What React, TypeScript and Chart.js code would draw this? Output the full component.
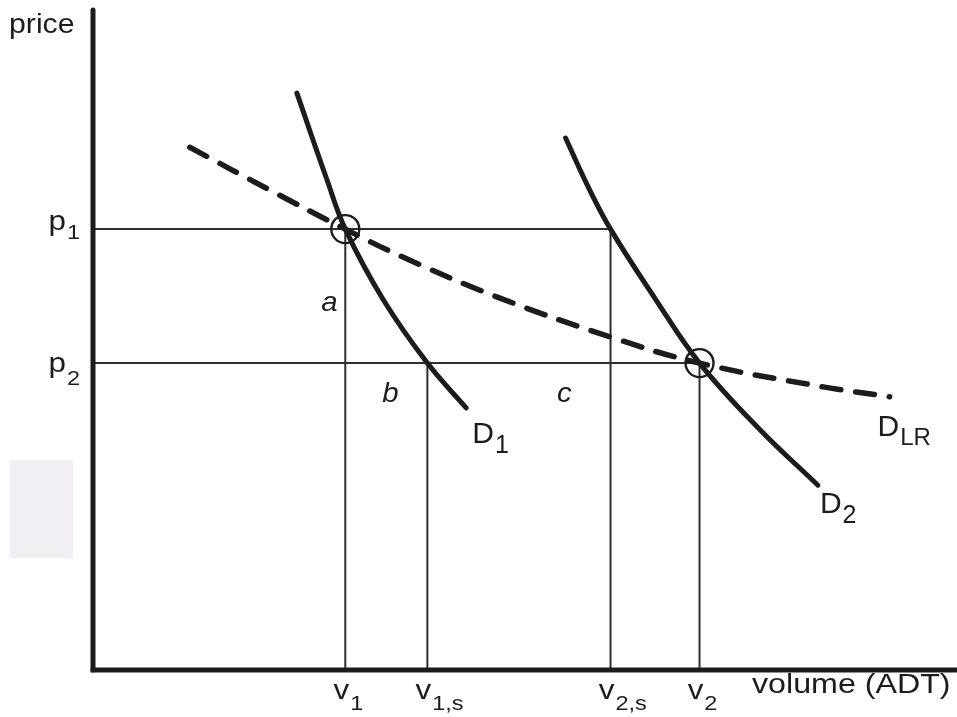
import React, { useEffect, useRef } from "react";
import { Chart, registerables } from "chart.js";

Chart.register(...registerables);

// ---- data (abstract units: volume 0..100, price 0..100) ----
const priceLevels = [66.8, 46.5]; // p1, p2
const volumeLevels = [29.2, 38.7, 59.9, 70.2]; // v1, v1,s, v2,s, v2

const d1X = [23.6, 27.1, 29.2, 33.6, 38.7, 43.2];
const d1Y = [87.4, 74.2, 66.8, 56.1, 46.5, 39.7];

const d2X = [54.7, 57.2, 59.9, 65.0, 70.2, 77.2, 83.9];
const d2Y = [80.6, 73.5, 66.8, 56.4, 46.5, 36.4, 28.0];

const dlrX = [11.2, 20.5, 29.2, 35.8, 46.8, 59.8, 70.2, 84.5, 92.2];
const dlrY = [79.2, 72.7, 66.8, 62.6, 56.5, 50.5, 46.5, 42.9, 41.4];

const equilibriumX = [29.2, 70.2];
const equilibriumY = [66.8, 46.5];

const yTickLabels = [{ main: "p", sub: "1" }, { main: "p", sub: "2" }];
const xTickLabels = [
  { main: "v", sub: "1" },
  { main: "v", sub: "1,s" },
  { main: "v", sub: "2,s" },
  { main: "v", sub: "2" },
];
const curveLabels = [
  { main: "D", sub: "1" },
  { main: "D", sub: "2" },
  { main: "D", sub: "LR" },
];
const regionLabels = ["a", "b", "c"];
const yAxisTitle = "price";
const xAxisTitle = "volume (ADT)";

const zip = (xs: number[], ys: number[]) => xs.map((x, i) => ({ x, y: ys[i] }));

const INK = "#1c1c1c";
const THIN = "#2e2e2e";
const FONT = '"Liberation Sans", Arial, Helvetica, sans-serif';

function drawText(
  ctx: CanvasRenderingContext2D,
  text: string,
  x: number,
  y: number,
  size: number,
  opts: { italic?: boolean; sx?: number } = {}
) {
  const sx = opts.sx ?? 1.12;
  ctx.save();
  ctx.font = `${opts.italic ? "italic " : ""}${size}px ${FONT}`;
  ctx.fillStyle = INK;
  ctx.textBaseline = "alphabetic";
  ctx.textAlign = "left";
  ctx.translate(x, y);
  ctx.scale(sx, 1);
  ctx.fillText(text, 0, 0);
  const w = ctx.measureText(text).width * sx;
  ctx.restore();
  return w;
}

function measure(ctx: CanvasRenderingContext2D, text: string, size: number, sx = 1.12) {
  ctx.save();
  ctx.font = `${size}px ${FONT}`;
  const w = ctx.measureText(text).width * sx;
  ctx.restore();
  return w;
}

const diagramPlugin = {
  id: "diagram",
  beforeDraw(chart: any) {
    const ctx = chart.ctx as CanvasRenderingContext2D;
    ctx.save();
    ctx.fillStyle = "#ffffff";
    ctx.fillRect(0, 0, chart.width, chart.height);
    // faint scan artefact box at the left
    ctx.fillStyle = "#f2eff4";
    ctx.fillRect(10, 460, 63, 98);
    ctx.restore();
  },
  afterDatasetsDraw(chart: any) {
    const ctx = chart.ctx as CanvasRenderingContext2D;
    const { left, right, top, bottom } = chart.chartArea;
    const xs = chart.scales.x;
    const ys = chart.scales.y;

    // axes
    ctx.save();
    ctx.strokeStyle = INK;
    ctx.lineWidth = 5;
    ctx.lineCap = "round";
    ctx.beginPath();
    ctx.moveTo(left, top);
    ctx.lineTo(left, bottom);
    ctx.stroke();
    ctx.lineCap = "butt";
    ctx.beginPath();
    ctx.moveTo(left - 2.5, bottom);
    ctx.lineTo(right, bottom);
    ctx.stroke();
    ctx.restore();

    // axis titles
    drawText(ctx, yAxisTitle, 9, 33, 28, { sx: 1.08 });
    drawText(ctx, xAxisTitle, 752, bottom + 23, 28, { sx: 1.15 });

    // price tick labels
    const pOff = [
      { dy: 1, sdy: 10 },
      { dy: 9, sdy: 22 },
    ];
    priceLevels.forEach((p, i) => {
      const py = ys.getPixelForValue(p);
      const lab = yTickLabels[i];
      const wm = measure(ctx, lab.main, 28);
      const ws = measure(ctx, lab.sub, 21);
      const endX = left - 13;
      const sx0 = endX - ws - wm - 1;
      drawText(ctx, lab.main, sx0, py + pOff[i].dy, 28);
      drawText(ctx, lab.sub, sx0 + wm + 1, py + pOff[i].sdy, 21);
    });

    // volume tick labels
    volumeLevels.forEach((v, i) => {
      const px = xs.getPixelForValue(v);
      const lab = xTickLabels[i];
      const wm = measure(ctx, lab.main, 28);
      const x0 = px - 4 - wm / 2;
      drawText(ctx, lab.main, x0, bottom + 29, 28);
      drawText(ctx, lab.sub, x0 + wm + 1, bottom + 40, 21);
    });

    // curve labels, placed relative to each curve's end point
    const ends = [
      { x: d1X[d1X.length - 1], y: d1Y[d1Y.length - 1], dx: 6, dy: 35, size: 30, ssize: 25, sdy: 10 },
      { x: d2X[d2X.length - 1], y: d2Y[d2Y.length - 1], dx: 2, dy: 28, size: 30, ssize: 25, sdy: 10 },
      { x: dlrX[dlrX.length - 1], y: dlrY[dlrY.length - 1], dx: -12, dy: 39, size: 30, ssize: 24, sdy: 9 },
    ];
    ends.forEach((e, i) => {
      const px = xs.getPixelForValue(e.x) + e.dx;
      const py = ys.getPixelForValue(e.y) + e.dy;
      const lab = curveLabels[i];
      const wm = drawText(ctx, lab.main, px, py, e.size, { sx: 1.0 });
      drawText(ctx, lab.sub, px + wm + 1, py + e.sdy, e.ssize, { sx: 1.0 });
    });

    // region letters
    const p1y = ys.getPixelForValue(priceLevels[0]);
    const p2y = ys.getPixelForValue(priceLevels[1]);
    const v1x = xs.getPixelForValue(volumeLevels[0]);
    const v1sx = xs.getPixelForValue(volumeLevels[1]);
    const v2sx = xs.getPixelForValue(volumeLevels[2]);
    drawText(ctx, regionLabels[0], v1x - 24, (p1y + p2y) / 2 + 15, 28, { italic: true, sx: 1.05 });
    drawText(ctx, regionLabels[1], (v1x + v1sx) / 2 - 4, p2y + 39, 28, { italic: true, sx: 1.05 });
    drawText(ctx, regionLabels[2], (v1sx + v2sx) / 2 + 38, p2y + 39, 28, { italic: true, sx: 1.05 });
  },
};

export default function App() {
  const ref = useRef<HTMLCanvasElement | null>(null);

  useEffect(() => {
    document.body.style.margin = "0";
    document.body.style.overflow = "hidden";
    if (!ref.current) return;
    const [p1, p2] = priceLevels;
    const [v1, v1s, v2s, v2] = volumeLevels;

    const thin = (pts: { x: number; y: number }[]) => ({
      data: pts,
      showLine: true,
      borderColor: THIN,
      borderWidth: 2,
      pointRadius: 0,
      tension: 0,
      order: 3,
    });

    const curve = (xs: number[], ys: number[], dashed: boolean) => ({
      data: zip(xs, ys),
      showLine: true,
      borderColor: INK,
      borderWidth: dashed ? 5.5 : 5,
      borderDash: dashed ? [19, 15] : [],
      borderCapStyle: "round" as const,
      pointRadius: 0,
      tension: 0.4,
      order: 2,
    });

    const chart = new Chart(ref.current, {
      type: "scatter",
      data: {
        datasets: [
          thin([{ x: 0, y: p1 }, { x: v2s, y: p1 }]),
          thin([{ x: 0, y: p2 }, { x: v2, y: p2 }]),
          thin([{ x: v1, y: 0 }, { x: v1, y: p1 }]),
          thin([{ x: v1s, y: 0 }, { x: v1s, y: p2 }]),
          thin([{ x: v2s, y: 0 }, { x: v2s, y: p1 }]),
          thin([{ x: v2, y: 0 }, { x: v2, y: p2 }]),
          curve(d1X, d1Y, false),
          curve(d2X, d2Y, false),
          curve(dlrX, dlrY, true),
          {
            data: zip(equilibriumX, equilibriumY),
            showLine: false,
            pointRadius: 14,
            pointBorderWidth: 2.4,
            pointBorderColor: INK,
            pointBackgroundColor: "rgba(0,0,0,0)",
            order: 1,
          } as any,
        ] as any,
      },
      options: {
        responsive: false,
        animation: false,
        events: [],
        layout: { autoPadding: false, padding: { left: 93, right: 0, top: 10, bottom: 47 } },
        plugins: {
          legend: { display: false },
          tooltip: { enabled: false },
          title: { display: false },
        },
        scales: {
          x: { type: "linear", min: 0, max: 100, display: false },
          y: { type: "linear", min: 0, max: 100, display: false },
        },
      } as any,
      plugins: [diagramPlugin],
    });

    return () => chart.destroy();
  }, []);

  return (
    <div style={{ width: 957, height: 717, overflow: "hidden" }}>
      <canvas ref={ref} width={957} height={717} style={{ display: "block", width: 957, height: 717 }} />
    </div>
  );
}
